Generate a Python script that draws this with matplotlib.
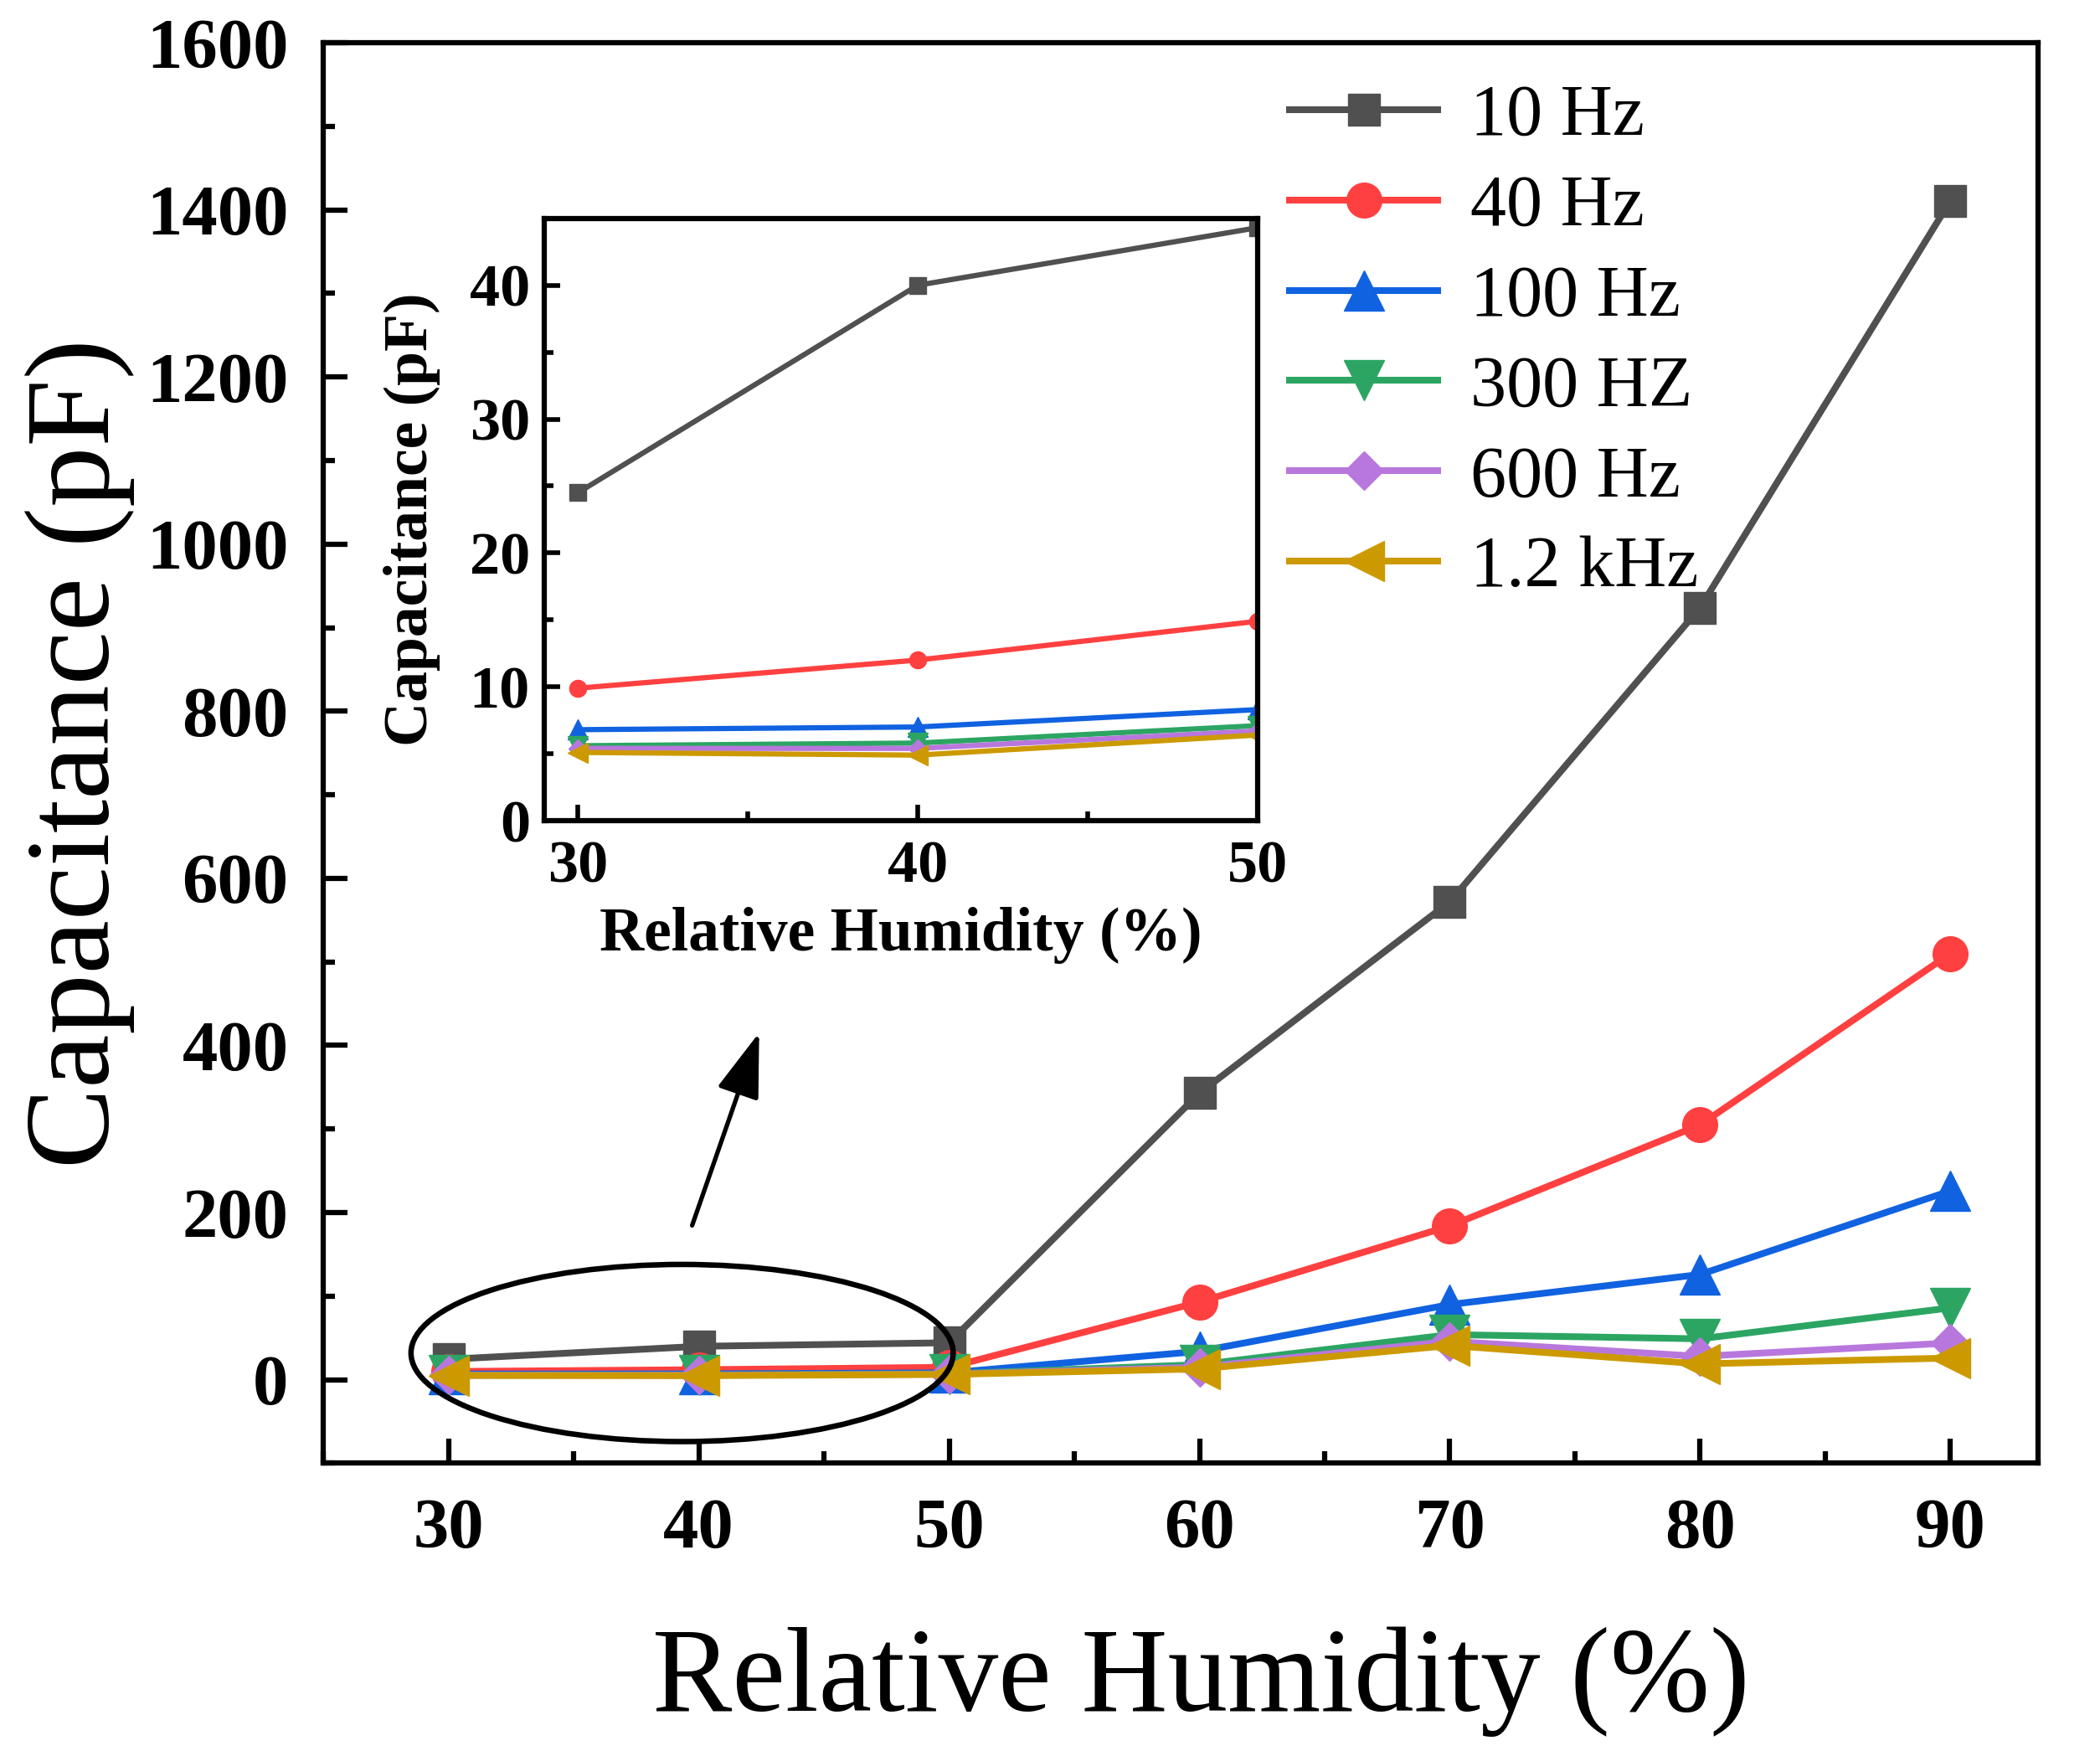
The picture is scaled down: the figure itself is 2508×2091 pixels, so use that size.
import matplotlib
matplotlib.use('Agg')
import matplotlib.pyplot as plt
from matplotlib.patches import Ellipse
from matplotlib.ticker import MultipleLocator

plt.rcParams['font.family'] = ['Liberation Serif', 'DejaVu Serif']
plt.rcParams['mathtext.fontset'] = 'stix'

# data
humidity = [30, 40, 50, 60, 70, 80, 90]
labels = ['10 Hz', '40 Hz', '100 Hz', '300 HZ', '600 Hz', '1.2 kHz']
cap_10hz = [24.5, 40.0, 44.3, 343, 572, 924, 1411]
cap_40hz = [9.9, 12.0, 14.9, 93, 184, 305, 510]
cap_100hz = [6.8, 7.0, 8.3, 34, 90, 126, 226]
cap_300hz = [5.6, 5.8, 7.1, 18, 54, 49, 86]
cap_600hz = [5.4, 5.4, 6.7, 15, 46, 28, 44]
cap_1k2hz = [5.1, 4.9, 6.4, 13, 41, 19, 26]

series = [cap_10hz, cap_40hz, cap_100hz, cap_300hz, cap_600hz, cap_1k2hz]
colors = ['#505050', '#ff4040', '#1062e0', '#2ca563', '#b877dd', '#cc9a00']
markers = ['s', 'o', '^', 'v', 'D', '<']
msizes = [27, 30, 34, 34, 23, 34]
inset_ms = [15, 14.5, 17, 17, 11, 17]

fig = plt.figure(figsize=(25.08, 20.91), dpi=100)
ax = fig.add_axes([0.154, 0.1643, 0.8165, 0.8113])

for vals, lab, c, m, ms in zip(series, labels, colors, markers, msizes):
    ax.plot(humidity, vals, color=c, marker=m, markersize=ms, lw=5.8, label=lab)

ax.set_xlim(25, 93.5)
ax.set_ylim(-100, 1600)
ax.xaxis.set_major_locator(MultipleLocator(10))
ax.xaxis.set_minor_locator(MultipleLocator(5))
ax.yaxis.set_major_locator(MultipleLocator(200))
ax.yaxis.set_minor_locator(MultipleLocator(100))
ax.tick_params(which='both', direction='in', top=False, right=False, width=4.5)
ax.tick_params(which='major', length=21, pad=30, labelsize=61)
ax.tick_params(which='minor', length=10)
for lbl in ax.get_xticklabels() + ax.get_yticklabels():
    lbl.set_fontweight('bold')
for sp in ax.spines.values():
    sp.set_linewidth(4.5)

ax.set_xlabel('Relative Humidity (%)', fontsize=103, labelpad=55)
ax.xaxis.label.set_x(0.512)
ax.set_ylabel('Capacitance (pF)', fontsize=104, labelpad=10)

leg = ax.legend(loc='upper left', bbox_to_anchor=(0.614, 0.952),
                bbox_transform=fig.transFigure, frameon=False, fontsize=62,
                handlelength=2.06, handletextpad=0.45, labelspacing=0.33,
                borderpad=0, borderaxespad=0)

# ellipse and arrow pointing to the inset
ell = Ellipse((39.33, 32), 21.66, 212, fill=False, edgecolor='black', lw=4.7, zorder=5)
ax.add_patch(ell)
ax.annotate('', xy=(42.44, 418), xytext=(39.7, 182),
            arrowprops=dict(arrowstyle='-|>,head_length=1.2,head_width=0.4',
                            color='black', lw=3.8, mutation_scale=40))

# inset
ins = fig.add_axes([0.259, 0.5313, 0.3398, 0.344])
for vals, c, m, ms in zip(series, colors, markers, inset_ms):
    ins.plot(humidity[:3], vals[:3], color=c, marker=m, markersize=ms, lw=4.5)
ins.set_xlim(29, 50)
ins.set_ylim(0, 45)
ins.xaxis.set_major_locator(MultipleLocator(10))
ins.xaxis.set_minor_locator(MultipleLocator(5))
ins.yaxis.set_major_locator(MultipleLocator(10))
ins.yaxis.set_minor_locator(MultipleLocator(5))
ins.tick_params(which='both', direction='in', top=False, right=False, width=4)
ins.tick_params(which='major', length=14, labelsize=52)
ins.tick_params(axis='x', which='major', pad=17)
ins.tick_params(axis='y', which='major', pad=12)
ins.tick_params(which='minor', length=8)
for lbl in ins.get_xticklabels() + ins.get_yticklabels():
    lbl.set_fontweight('bold')
for sp in ins.spines.values():
    sp.set_linewidth(4.5)
ins.set_xlabel('Relative Humidity (%)', fontsize=53, fontweight='bold', labelpad=10)
ins.set_ylabel('Capacitance (pF)', fontsize=53, fontweight='bold', labelpad=25)

fig.savefig('out.png', dpi=100)
